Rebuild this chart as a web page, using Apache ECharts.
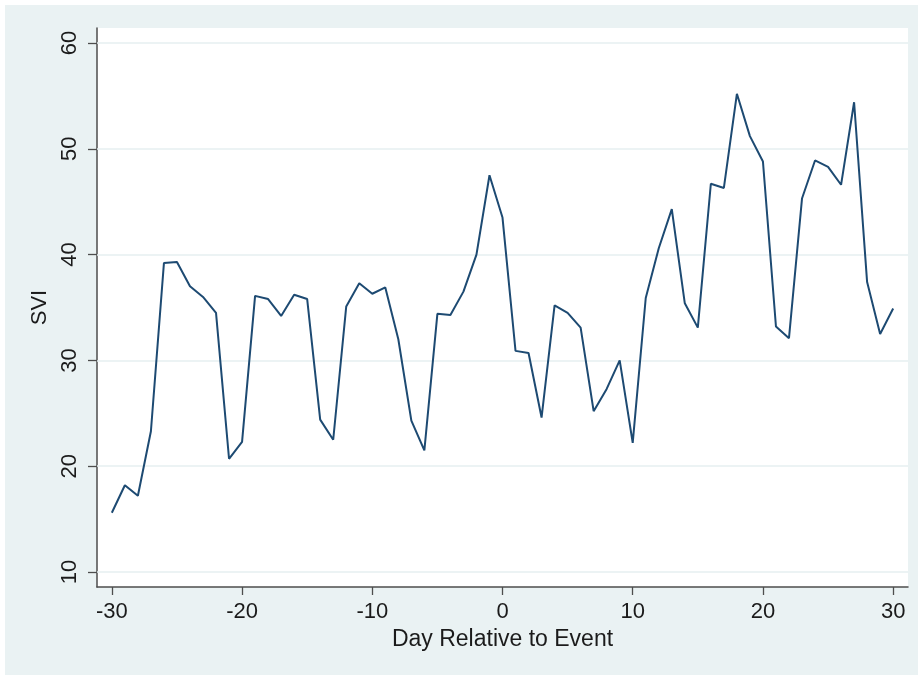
<!DOCTYPE html>
<html>
<head>
<meta charset="utf-8">
<title>SVI by Day Relative to Event</title>
<script src="https://cdn.jsdelivr.net/npm/echarts@6/dist/echarts.min.js"></script>
<style>
  html, body { margin: 0; padding: 0; background: #ffffff; }
  #chart { width: 918px; height: 675px; }
</style>
</head>
<body>
<div id="chart"></div>
<script>
// Event window, days relative to the event
const days = [
  -30, -29, -28, -27, -26, -25, -24, -23, -22, -21,
  -20, -19, -18, -17, -16, -15, -14, -13, -12, -11,
  -10, -9, -8, -7, -6, -5, -4, -3, -2, -1,
  0, 1, 2, 3, 4, 5, 6, 7, 8, 9,
  10, 11, 12, 13, 14, 15, 16, 17, 18, 19,
  20, 21, 22, 23, 24, 25, 26, 27, 28, 29, 30
];

// Search volume index for each day
const svi = [
  15.6, 18.2, 17.2, 23.3, 39.2, 39.3, 37.0, 36.0, 34.5, 20.7,
  22.3, 36.1, 35.8, 34.2, 36.2, 35.8, 24.4, 22.5, 35.1, 37.3,
  36.3, 36.9, 32.0, 24.3, 21.5, 34.4, 34.3, 36.5, 40.0, 47.5,
  43.5, 30.9, 30.7, 24.6, 35.2, 34.5, 33.1, 25.2, 27.3, 30.0,
  22.2, 35.9, 40.6, 44.3, 35.4, 33.1, 46.7, 46.3, 55.2, 51.2,
  48.8, 33.2, 32.1, 45.3, 48.9, 48.3, 46.6, 54.4, 37.4, 32.5, 34.9
];

// Axis ticks and labels
const xTicks = [-30, -20, -10, 0, 10, 20, 30];
const yTicks = [10, 20, 30, 40, 50, 60];

const FONT = '"Liberation Sans", Arial, Helvetica, sans-serif';
const TEXT = '#1b1b1b';
const AXIS = '#4d4d4d';
const BG = '#eaf2f3';

const chart = echarts.init(document.getElementById('chart'), null, { renderer: 'canvas' });

chart.setOption({
  animation: false,
  backgroundColor: '#ffffff',
  graphic: [{
    type: 'rect',
    z: -10,
    silent: true,
    shape: { x: 5, y: 5, width: 913, height: 670 },
    style: { fill: BG }
  }],
  grid: {
    left: 97, right: 10, top: 28, bottom: 88,
    show: true,
    backgroundColor: '#ffffff',
    borderWidth: 0
  },
  xAxis: {
    type: 'value',
    min: -31.14,
    max: 31.14,
    name: 'Day Relative to Event',
    nameLocation: 'middle',
    nameGap: 38,
    nameTextStyle: { fontFamily: FONT, fontSize: 23, color: TEXT },
    axisLine: { show: true, onZero: false, lineStyle: { color: AXIS, width: 1.5 } },
    axisTick: { show: true, length: 8, customValues: xTicks, lineStyle: { color: AXIS, width: 1.3 } },
    axisLabel: { customValues: xTicks, margin: 14, fontFamily: FONT, fontSize: 22, color: TEXT },
    splitLine: { show: false }
  },
  yAxis: {
    type: 'value',
    min: 8.58,
    max: 61.42,
    name: 'SVI',
    nameLocation: 'middle',
    nameRotate: 90,
    nameGap: 42,
    nameTextStyle: { fontFamily: FONT, fontSize: 22, color: TEXT },
    axisLine: { show: true, onZero: false, lineStyle: { color: AXIS, width: 1.5 } },
    axisTick: { show: true, length: 9, customValues: yTicks, lineStyle: { color: AXIS, width: 1.3 } },
    axisLabel: { customValues: yTicks, rotate: 90, margin: 16, fontFamily: FONT, fontSize: 22, color: TEXT },
    splitLine: { show: false }
  },
  series: [{
    type: 'line',
    data: days.map((d, i) => [d, svi[i]]),
    showSymbol: false,
    symbol: 'none',
    lineStyle: { color: '#1d4a72', width: 2 },
    z: 5,
    markLine: {
      silent: true,
      symbol: ['none', 'none'],
      label: { show: false },
      z: 1,
      lineStyle: { color: '#e6eff1', width: 1.5, type: 'solid' },
      data: yTicks.map(v => ({ yAxis: v }))
    }
  }]
});
</script>
</body>
</html>
